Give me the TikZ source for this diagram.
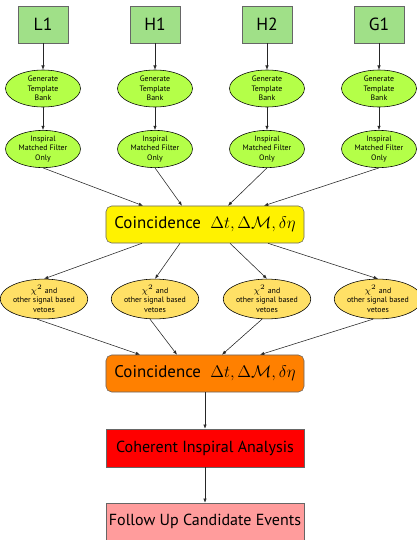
\documentclass[tikz,border=0pt]{standalone}
\usepackage{fontspec}
\setsansfont{PT Sans}
\usetikzlibrary{shapes.geometric,arrows.meta,calc}

\definecolor{ifogreen}{HTML}{A0E088}
\definecolor{bankgreen}{HTML}{B4FF48}
\definecolor{vetogold}{HTML}{FFE066}
\definecolor{coincorange}{HTML}{FF8000}
\definecolor{followpink}{HTML}{FF9C9C}

\begin{document}
\begin{tikzpicture}[x=0.025cm, y=-0.025cm, font=\sffamily,
    ifo/.style={draw=black!60, fill=ifogreen, minimum width=1.25cm, minimum height=0.925cm,
      inner sep=0pt, font=\sffamily\fontsize{12.5}{14}\selectfont},
    bank/.style={ellipse, draw=black, fill=bankgreen, minimum width=1.875cm, minimum height=0.925cm,
      inner sep=0pt, align=center, font=\sffamily\fontsize{5.6}{6.8}\selectfont},
    veto/.style={ellipse, draw=black, fill=vetogold, minimum width=1.85cm, minimum height=0.9cm,
      inner sep=0pt, align=center, font=\sffamily\fontsize{5.6}{7.1}\selectfont},
    stage/.style={draw=black!60, minimum width=4.95cm, minimum height=0.925cm,
      inner sep=0pt, font=\sffamily\fontsize{11.4}{13}\selectfont},
    arr/.style={-{Latex[length=3pt,width=2.4pt]}, draw=black!85, thin}]

    \useasboundingbox (0,0) rectangle (416,540);

    %% detectors and their template banks / filters
    \foreach \name/\x in {L1/43, H1/155, H2/267, G1/379} {
      \node[ifo] (ifo\name) at (\x,24.5) {\name};
      \node[bank] (bank\name) at (\x,88.5) {Generate\\Template\\Bank};
      \node[bank] (filt\name) at (\x,149) {Inspiral\\Matched Filter\\Only};
      \draw[arr] (ifo\name) -- (bank\name);
      \draw[arr] (bank\name) -- (filt\name);
    }

    %% first coincidence
    \node[stage, fill=yellow, rounded corners=4pt] (coincA) at (205,224.5)
      {\fontsize{12}{14}\selectfont Coincidence\hspace{0.55em}$\Delta t, \Delta\mathcal{M}, \delta\eta$};

    \foreach \name/\dx in {L1/-62, H1/-23, H2/23, G1/59} {
      \draw[arr] (filt\name.south) -- ($(coincA.north)+(\dx,0)$); }

    %% vetoes
    \foreach \i/\x in {1/44, 2/155, 3/267, 4/378} {
      \node[veto] (veto\i) at (\x,299) {$\chi^2$ and\\other signal based\\vetoes}; }

    \foreach \i/\dx in {1/-63, 2/-25, 3/25, 4/63} {
      \draw[arr] ($(coincA.south)+(\dx,0)$) -- (veto\i.north); }

    %% second coincidence
    \node[stage, fill=coincorange, rounded corners=4pt] (coincB) at (205,373.5)
      {\fontsize{12}{14}\selectfont Coincidence\hspace{0.55em}$\Delta t, \Delta\mathcal{M}, \delta\eta$};

    \foreach \i/\sx/\dx in {1/-7/-65, 2/-5/-28, 3/-5/17, 4/-5/55} {
      \draw[arr] ($(veto\i.south)+(\sx,0)$) -- ($(coincB.north)+(\dx,0)$); }

    %% coherent stage and follow up
    \node[stage, fill=red, minimum height=0.95cm] (coher) at (205,448) {Coherent Inspiral Analysis};
    \node[stage, fill=followpink, font=\sffamily\fontsize{11.4}{13}\selectfont] (follow) at (205,521.5) {Follow Up Candidate Events};

    \draw[arr] (coincB) -- (coher);
    \draw[arr] (coher) -- (follow);

\end{tikzpicture}
\end{document}
